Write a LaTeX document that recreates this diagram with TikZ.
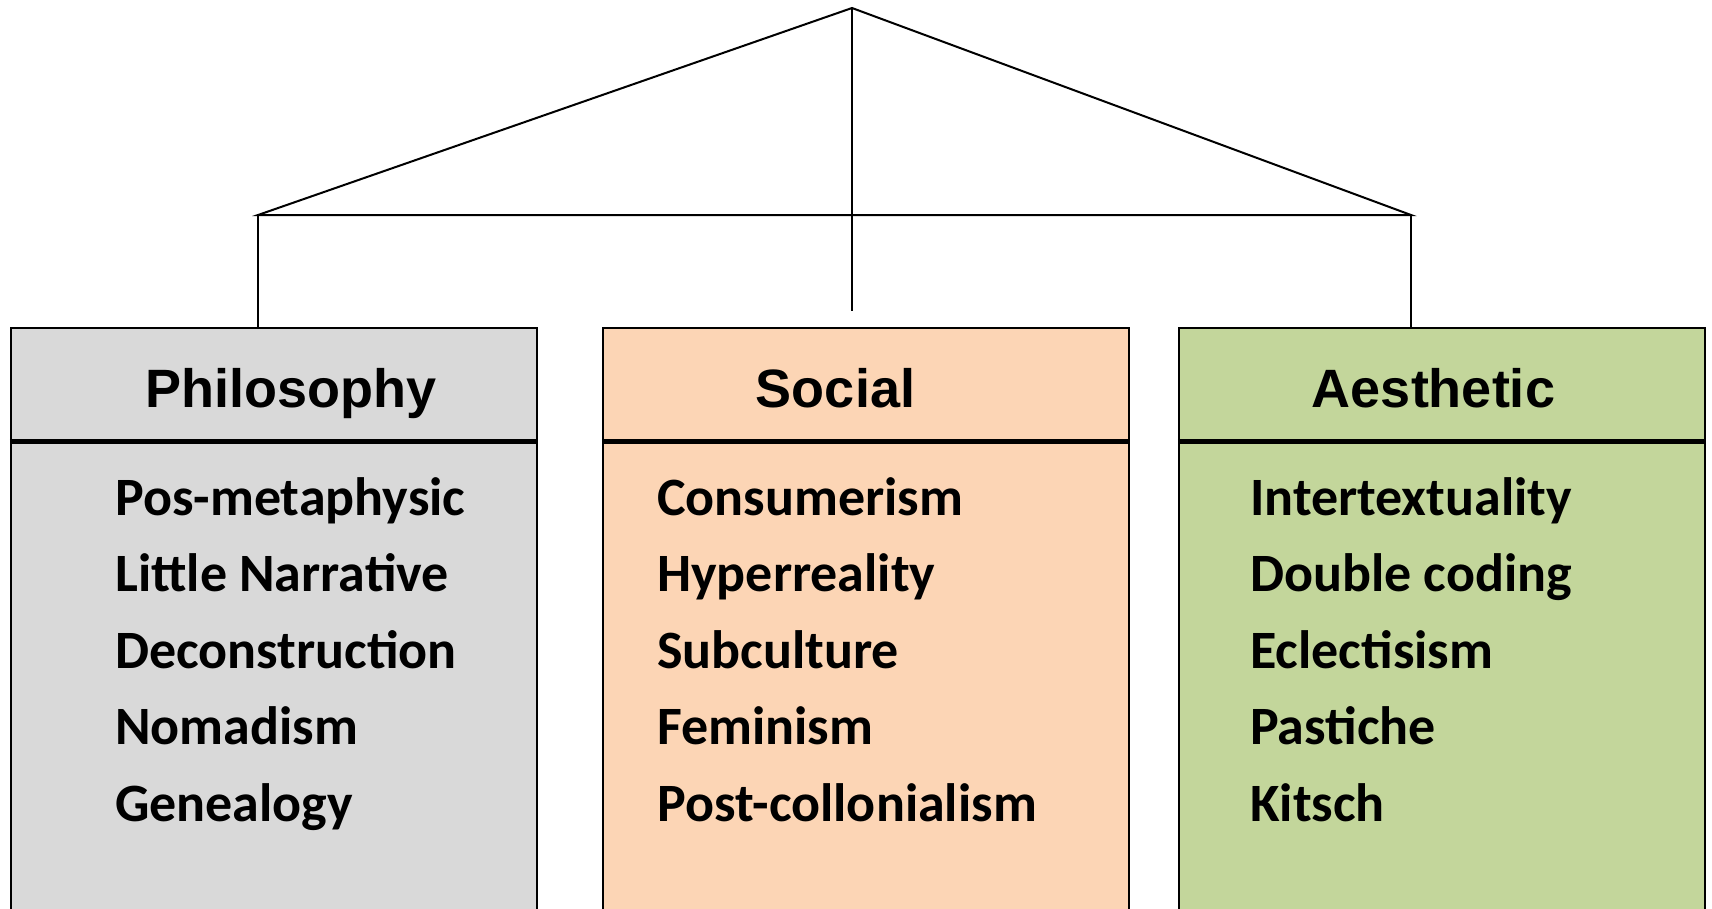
\documentclass[tikz,border=0pt]{standalone}
\usepackage{fontspec}
\newfontfamily\headfont{Liberation Sans}
\newfontfamily\itemfont{Carlito}
\definecolor{philgray}{HTML}{D9D9D9}
\definecolor{socialpeach}{HTML}{FCD5B5}
\definecolor{aestgreen}{HTML}{C3D69B}
\begin{document}
\begin{tikzpicture}[
				x=1pt, y=-1pt,
				cell/.style={rectangle, draw, line width=2.5pt, minimum width=526pt, inner sep=0pt},
				head/.style={cell, minimum height=112.5pt},
				body/.style={cell, minimum height=475pt},
				title/.style={anchor=base, font=\headfont\bfseries\fontsize{54}{60}\selectfont},
				items/.style={anchor=base west, align=left, inner sep=0pt, font=\itemfont\bfseries\fontsize{54}{76.4}\selectfont},
				link/.style={line width=2pt},
				divider/.style={line width=5pt}
				]
				\useasboundingbox (0,0) rectangle (1712,908);
				\coordinate (top) at (852,8);
				\coordinate (lj) at (258,215);
				\coordinate (rj) at (1411,215);
				\coordinate (midend) at (852,311);
				\node[body, fill=philgray] (philbody) at (274,677.5) {};
				\node[body, fill=socialpeach] (socbody) at (866,677.5) {};
				\node[body, fill=aestgreen] (aestbody) at (1442,677.5) {};
				\node[head, fill=philgray] (philhead) at (274,384) {};
				\node[head, fill=socialpeach] (sochead) at (866,384) {};
				\node[head, fill=aestgreen] (aesthead) at (1442,384) {};
				\draw[divider] (philhead.south west) -- (philhead.south east);
				\draw[divider] (sochead.south west) -- (sochead.south east);
				\draw[divider] (aesthead.south west) -- (aesthead.south east);
				\node[title] (philtitle) at (291,407) {Philosophy};
				\node[title] (soctitle) at (835.5,407) {Social};
				\node[title] (aesttitle) at (1433.5,407) {Aesthetic};
				\node[items] (philitems) at (115,821) {Pos-metaphysic\\Little Narrative\\Deconstruction\\Nomadism\\Genealogy};
				\node[items] (socitems) at (657,821) {Consumerism\\Hyperreality\\Subculture\\Feminism\\Post-collonialism};
				\node[items] (aestitems) at (1250,821) {Intertextuality\\Double coding\\Eclectisism\\Pastiche\\Kitsch};
				\draw[link] (top) -- (lj) -- (rj) -- cycle;
				\draw[link] (top) -- (midend);
				\draw[link] (lj) -- (lj |- philhead.north);
				\draw[link] (rj) -- (rj |- aesthead.north);
			\end{tikzpicture}
\end{document}
